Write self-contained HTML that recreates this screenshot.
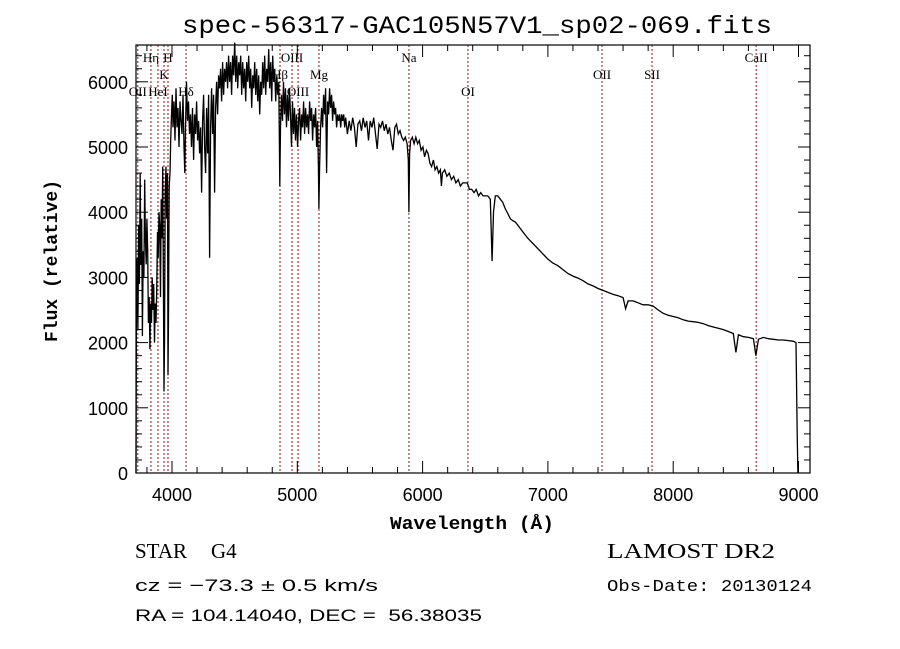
<!DOCTYPE html>
<html><head><meta charset="utf-8"><style>
html,body{margin:0;padding:0;background:#fff;}
svg{display:block;}
text{white-space:pre;}
</style></head><body>
<svg id="chart" width="900" height="649" xmlns="http://www.w3.org/2000/svg" xml:space="preserve">
<rect x="0" y="0" width="900" height="649" fill="#fff"/>
<text x="477" y="33" text-anchor="middle" font-family="Liberation Mono, monospace" font-size="25" textLength="590" lengthAdjust="spacingAndGlyphs">spec-56317-GAC105N57V1_sp02-069.fits</text>
<g id="lines"></g>
<g id="spec"></g>
<g id="axes"></g>
<text x="472" y="529" text-anchor="middle" font-family="Liberation Mono, monospace" font-weight="bold" font-size="18" textLength="164" lengthAdjust="spacingAndGlyphs">Wavelength (Å)</text>
<text transform="translate(57,261) rotate(-90)" text-anchor="middle" font-family="Liberation Mono, monospace" font-weight="bold" font-size="18" textLength="162" lengthAdjust="spacingAndGlyphs">Flux (relative)</text>
<text x="135" y="558" font-family="Liberation Serif, serif" font-size="21">STAR</text>
<text x="211" y="558" font-family="Liberation Serif, serif" font-size="21">G4</text>
<text x="607" y="558" font-family="Liberation Serif, serif" font-size="21" textLength="168" lengthAdjust="spacingAndGlyphs">LAMOST DR2</text>
<text x="135" y="591" font-family="Liberation Sans, sans-serif" font-size="17" textLength="243" lengthAdjust="spacingAndGlyphs">cz = −73.3 ± 0.5 km/s</text>
<text x="607" y="591" font-family="Liberation Mono, monospace" font-size="17" textLength="205" lengthAdjust="spacingAndGlyphs">Obs-Date: 20130124</text>
<text x="135" y="621" font-family="Liberation Sans, sans-serif" font-size="17" textLength="347" lengthAdjust="spacingAndGlyphs">RA = 104.14040, DEC =  56.38035</text>
</svg>
<script>
const waves = [3713,3716,3722,3728,3734,3740,3746,3752,3758,3764,3770,3776,3782,3788,3794,3800,3806,3812,3818,3824,3830,3836,3842,3848,3854,3860,3866,3872,3878,3884,3890,3896,3902,3908,3914,3920,3926,3932,3936,3940,3946,3952,3958,3964,3968,3972,3978,3984,3990,3996,4002,4008,4016,4024,4032,4040,4048,4056,4064,4072,4080,4088,4096,4102,4108,4116,4124,4132,4140,4148,4156,4164,4172,4180,4188,4196,4204,4212,4220,4228,4236,4244,4252,4260,4268,4276,4284,4292,4300,4308,4316,4324,4332,4340,4348,4356,4364,4372,4380,4388,4396,4404,4412,4420,4428,4436,4444,4452,4460,4468,4476,4484,4492,4500,4508,4516,4524,4532,4540,4548,4556,4564,4572,4580,4588,4596,4604,4612,4620,4628,4636,4644,4652,4660,4668,4676,4684,4692,4700,4708,4716,4724,4732,4740,4748,4756,4764,4772,4780,4788,4796,4804,4812,4820,4828,4836,4844,4852,4860,4866,4874,4882,4890,4898,4906,4914,4922,4930,4938,4946,4954,4962,4970,4978,4986,4994,5002,5010,5018,5026,5034,5042,5050,5058,5066,5074,5082,5090,5098,5106,5114,5122,5130,5138,5146,5154,5162,5168,5172,5178,5186,5194,5202,5210,5218,5226,5234,5242,5250,5258,5266,5274,5282,5290,5298,5306,5314,5322,5330,5338,5346,5354,5362,5370,5378,5386,5400,5414,5428,5442,5456,5470,5484,5498,5512,5526,5540,5554,5568,5582,5596,5610,5624,5638,5652,5666,5680,5694,5708,5722,5736,5750,5764,5778,5792,5806,5820,5834,5848,5862,5876,5886,5891,5896,5904,5918,5932,5946,5960,5974,5988,6002,6016,6030,6044,6058,6072,6086,6100,6114,6128,6142,6150,6158,6176,6194,6212,6230,6248,6266,6284,6302,6320,6338,6356,6374,6392,6410,6428,6446,6464,6482,6500,6520,6540,6555,6566,6580,6600,6620,6640,6660,6680,6700,6720,6740,6760,6780,6800,6820,6840,6860,6880,6900,6920,6940,6960,6980,7000,7040,7080,7120,7160,7200,7240,7280,7320,7360,7400,7440,7480,7520,7560,7600,7620,7640,7680,7720,7760,7800,7840,7880,7920,7960,8000,8040,8080,8120,8160,8200,8240,8280,8320,8360,8400,8440,8480,8500,8520,8560,8600,8640,8660,8680,8720,8760,8800,8840,8880,8920,8960,8980,8990,8995];
const fluxes = [0,2400,3300,2200,3800,2900,4600,3200,3900,2100,3400,3000,4500,3600,3200,3900,3400,2300,2700,1900,2600,2300,3000,2500,2900,2000,2600,2300,2800,3700,3300,4000,3800,2700,4200,3600,4700,2600,1250,2000,4300,4700,3900,4600,1500,2400,4400,4600,5100,5500,5800,5300,5700,5100,5900,5300,5600,5000,5700,5400,5200,5800,5000,4600,5300,6000,5400,5700,5200,5500,5000,5600,4800,5500,5200,5700,5100,5400,4900,5300,4300,5400,5800,5000,4600,5600,4900,5800,3300,5300,5900,5200,5800,4300,5600,6000,5500,6100,5900,6200,5700,6300,5800,6200,6000,6300,5900,6400,6000,6300,5800,6400,6100,6600,6000,6400,5900,6300,6100,6400,5800,6300,5900,6200,5700,6300,6000,6400,5900,6200,5600,6100,5900,6300,5800,6200,5700,6100,5500,6000,5800,6300,5900,6400,5800,6200,6000,6500,5900,6300,5700,6400,6000,6200,5700,6100,5800,6000,4400,5300,5800,5400,6000,5500,5900,5300,5800,5400,5900,5500,5000,5700,5200,5600,5100,5500,5000,5400,5600,5100,5500,5300,5700,5200,5600,5300,5500,5200,5700,5400,5600,5100,5500,5300,5600,5000,5400,4700,4050,4700,5300,5600,5300,5800,5500,5900,4600,5700,5500,5900,5600,5800,5400,5700,5500,5600,5300,5500,5400,5500,5300,5500,5400,5500,5300,5450,5200,5400,5250,5450,5300,5000,5350,5400,5250,5450,5300,5400,5100,5400,5300,5450,5200,4970,5350,5300,5400,5250,5350,5200,5300,5100,4950,5300,5350,5200,5250,5150,5100,5150,5050,4800,4000,4900,5100,5150,5050,5150,5050,5100,4950,5000,4850,4950,4900,4750,4700,4800,4650,4700,4600,4650,4400,4600,4650,4550,4600,4500,4550,4450,4500,4400,4450,4450,4450,4350,4350,4300,4350,4250,4300,4250,4250,4250,4200,3250,4000,4250,4250,4200,4150,4050,3980,3900,3870,3850,3800,3750,3700,3650,3600,3560,3520,3480,3440,3400,3360,3320,3280,3220,3180,3120,3060,3020,2990,2950,2900,2870,2830,2800,2770,2740,2720,2690,2520,2640,2640,2610,2580,2580,2560,2500,2450,2420,2400,2380,2350,2330,2320,2310,2290,2260,2240,2220,2200,2170,2140,1850,2120,2090,2080,2060,1800,2050,2080,2060,2050,2040,2040,2030,2020,2000,600,0];
const xTicks = [4000,5000,6000,7000,8000,9000];
const yTicks = [0,1000,2000,3000,4000,5000,6000];
const lineWaves = [3727,3832,3888,3936,3968,4112,4862,4958,5006,5173,5891,6362,7432,7831,8662];
const lineLabels = ["OII","Hη","HeI","K","H","Hδ","Hβ","OIII","OIII","Mg","Na","OI","OII","SII","CaII"];
const labelRows = [2,0,2,1,0,2,1,0,2,1,0,2,1,1,0];

const NS="http://www.w3.org/2000/svg";
const L=136,R=810,T=45,B=473;
const xs=w=>172+(w-4000)*0.1253;
const ys=v=>473-v*0.0652;
function mk(tag,attrs,parent){const e=document.createElementNS(NS,tag);for(const k in attrs)e.setAttribute(k,attrs[k]);parent.appendChild(e);return e;}
const gl=document.getElementById('lines'),gs=document.getElementById('spec'),ga=document.getElementById('axes');

const rowY=[62,79,96];
lineWaves.forEach((w,i)=>{
  const x=xs(w);
  const ln=mk('line',{x1:x,x2:x,y1:T,y2:B,stroke:'#8b1a1a','stroke-width':1,'stroke-dasharray':'2,2'},gl);
  
  
  const t=mk('text',{x:x,y:rowY[labelRows[i]],'text-anchor':'middle','font-family':'Liberation Serif, serif','font-size':13},gl);
  t.textContent=lineLabels[i];
  
  
});

let d='';
waves.forEach((w,i)=>{d+=(i?'L':'M')+xs(w).toFixed(1)+','+ys(fluxes[i]).toFixed(1);});
const p=mk('path',{d:d,fill:'none',stroke:'#000','stroke-width':1.3,'stroke-linejoin':'miter'},gs);



const box=mk('rect',{x:L,y:T,width:R-L,height:B-T,fill:'none',stroke:'#000','stroke-width':1.2},ga);


for(let w=3800;w<=9000;w+=200){
  const x=xs(w);if(x<L||x>R)continue;
  const major=w%1000===0, len=major?12:6;
  mk('line',{x1:x,x2:x,y1:B,y2:B-len,stroke:'#000'},ga);
  mk('line',{x1:x,x2:x,y1:T,y2:T+len,stroke:'#000'},ga);
}
xTicks.forEach(w=>{
  const t=mk('text',{x:xs(w),y:501,'text-anchor':'middle','font-family':'Liberation Sans, sans-serif','font-size':18},ga);
  t.textContent=w;
  
  
});
for(let v=0;v<=6400;v+=200){
  const y=ys(v);const major=v%1000===0,len=major?12:6;
  mk('line',{x1:L,x2:L+len,y1:y,y2:y,stroke:'#000'},ga);
  mk('line',{x1:R,x2:R-len,y1:y,y2:y,stroke:'#000'},ga);
}
yTicks.forEach(v=>{
  const t=mk('text',{x:128,y:ys(v)+7,'text-anchor':'end','font-family':'Liberation Sans, sans-serif','font-size':18},ga);
  t.textContent=v;
  
  
});
</script>
</body></html>
